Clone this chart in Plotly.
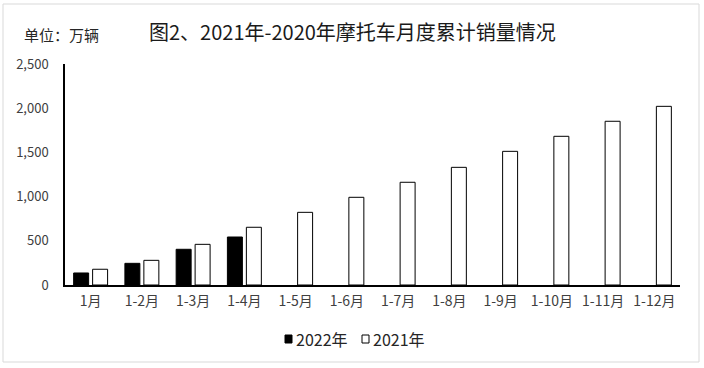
import plotly.graph_objects as go

categories = ["1月", "1-2月", "1-3月", "1-4月", "1-5月", "1-6月", "1-7月", "1-8月", "1-9月", "1-10月", "1-11月", "1-12月"]
sales_2022 = [136, 245, 404, 543, None, None, None, None, None, None, None, None]
sales_2021 = [178, 279, 460, 653, 822, 992, 1162, 1331, 1512, 1682, 1852, 2021]
y_ticks = [0, 500, 1000, 1500, 2000, 2500]
y_tick_labels = ["0", "500", "1,000", "1,500", "2,000", "2,500"]
series_names = ["2022年", "2021年"]

FONT = "Noto Sans CJK SC"

fig = go.Figure()
fig.add_trace(go.Bar(
    name=series_names[0], x=categories, y=sales_2022, showlegend=False,
    marker=dict(color="#000000", line=dict(color="#000000", width=1)),
))
fig.add_trace(go.Bar(
    name=series_names[1], x=categories, y=sales_2021, showlegend=False,
    marker=dict(color="#ffffff", line=dict(color="#000000", width=1)),
))

L, R, T, B = 65, 24, 64, 83
W, H = 704, 368
pw, ph = W - L - R, H - T - B

def px(x):
    return (x - L) / pw

def py(y):
    return (H - B - y) / ph

legend_font = dict(size=16, color="#262626", family=FONT)

fig.update_layout(
    width=W, height=H,
    margin=dict(l=L, r=R, t=T, b=B),
    paper_bgcolor="#ffffff", plot_bgcolor="#ffffff",
    barmode="group", bargap=0.26, bargroupgap=0.21,
    font=dict(family=FONT, color="#404040", size=13),
    showlegend=False,
    xaxis=dict(showline=True, linecolor="#000000", linewidth=1.5, showgrid=False,
               ticks="", tickfont=dict(size=14, color="#404040"), ticklabelstandoff=2),
    yaxis=dict(showline=True, linecolor="#000000", linewidth=1.5, showgrid=False,
               range=[0, 2500], tickvals=y_ticks, ticktext=y_tick_labels,
               ticks="", zeroline=False, tickfont=dict(size=13, color="#404040"),
               ticklabelstandoff=12),
    shapes=[
        dict(type="rect", xref="paper", yref="paper",
             x0=px(3), x1=px(699), y0=py(362), y1=py(4),
             line=dict(color="#d9d9d9", width=1), layer="below"),
        # legend keys
        dict(type="rect", xref="paper", yref="paper",
             x0=px(285), x1=px(292), y0=py(343), y1=py(335),
             fillcolor="#000000", line=dict(color="#000000", width=1)),
        dict(type="rect", xref="paper", yref="paper",
             x0=px(362), x1=px(369), y0=py(343), y1=py(335),
             fillcolor="#ffffff", line=dict(color="#000000", width=1)),
    ],
    annotations=[
        dict(text="图2、2021年-2020年摩托车月度累计销量情况", xref="paper", yref="paper",
             x=px(352), y=py(31), xanchor="center", yanchor="middle", showarrow=False,
             font=dict(size=20, color="#1a1a1a", family=FONT)),
        dict(text="单位：万辆", xref="paper", yref="paper",
             x=px(22), y=py(34), xanchor="left", yanchor="middle", showarrow=False,
             font=dict(size=15, color="#262626", family=FONT)),
        dict(text=series_names[0], xref="paper", yref="paper",
             x=px(294), y=py(339), xanchor="left", yanchor="middle", showarrow=False,
             font=legend_font),
        dict(text=series_names[1], xref="paper", yref="paper",
             x=px(371), y=py(339), xanchor="left", yanchor="middle", showarrow=False,
             font=legend_font),
    ],
)

fig.write_html("out.html", config={"displayModeBar": False},
               post_script="document.body.style.margin='0';document.body.style.overflow='hidden';")
